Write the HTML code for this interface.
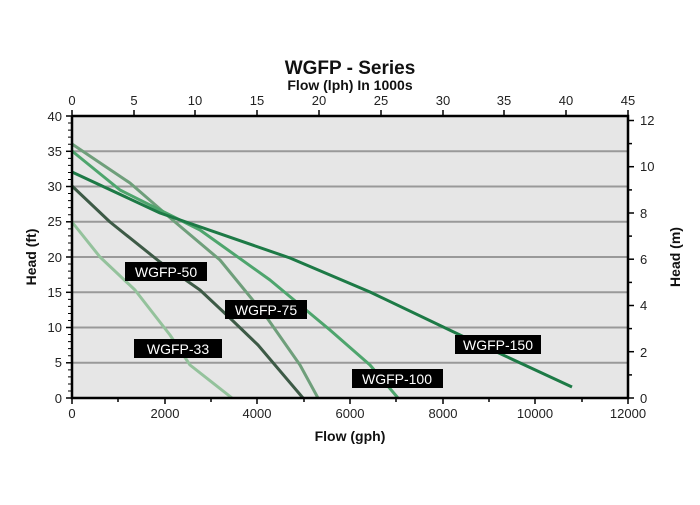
<!DOCTYPE html><html><head><style>body{margin:0;background:#fff}svg text{font-family:"Liberation Sans",sans-serif}</style></head><body>
<svg width="700" height="500" xmlns="http://www.w3.org/2000/svg">
<rect x="72" y="116" width="556" height="282" fill="#e6e6e6"/>
<g stroke="#999" stroke-width="2">
<line x1="72" x2="628" y1="151.3" y2="151.3"/><line x1="72" x2="628" y1="186.5" y2="186.5"/><line x1="72" x2="628" y1="221.8" y2="221.8"/><line x1="72" x2="628" y1="257" y2="257"/><line x1="72" x2="628" y1="292.3" y2="292.3"/><line x1="72" x2="628" y1="327.5" y2="327.5"/><line x1="72" x2="628" y1="362.8" y2="362.8"/></g>
<g fill="none" stroke-width="3" stroke-linejoin="round">
<polyline stroke="#94c29c" points="72,222 100,257 135,290 170,335 190,365 232,398"/>
<polyline stroke="#3d5a46" points="72,186 110,222 160,262 200,290 232,320 258,345 303,398"/>
<polyline stroke="#6f9f7b" points="72,144 130,183 175,222 220,260 265,315 300,365 318,398"/>
<polyline stroke="#4ea56d" points="72,151 120,190 200,230 270,280 330,330 370,365 398,398"/>
<polyline stroke="#1d7a46" points="72,172 160,213 290,258 370,292 460,335 572,387"/>
</g>
<g stroke="#000" stroke-width="2.5" fill="none"><polyline points="72,116 628,116 628,398 72,398 72,116"/></g>
<g stroke="#000" stroke-width="1.5">
<line x1="72" x2="72" y1="398" y2="404"/><line x1="165" x2="165" y1="398" y2="404"/><line x1="257" x2="257" y1="398" y2="404"/><line x1="350" x2="350" y1="398" y2="404"/><line x1="443" x2="443" y1="398" y2="404"/><line x1="535" x2="535" y1="398" y2="404"/><line x1="628" x2="628" y1="398" y2="404"/>
<line x1="118" x2="118" y1="398" y2="402"/><line x1="211" x2="211" y1="398" y2="402"/><line x1="304" x2="304" y1="398" y2="402"/><line x1="396" x2="396" y1="398" y2="402"/><line x1="489" x2="489" y1="398" y2="402"/><line x1="582" x2="582" y1="398" y2="402"/>
<line x1="72" x2="72" y1="110" y2="116"/><line x1="134" x2="134" y1="110" y2="116"/><line x1="195" x2="195" y1="110" y2="116"/><line x1="257" x2="257" y1="110" y2="116"/><line x1="319" x2="319" y1="110" y2="116"/><line x1="381" x2="381" y1="110" y2="116"/><line x1="443" x2="443" y1="110" y2="116"/><line x1="504" x2="504" y1="110" y2="116"/><line x1="566" x2="566" y1="110" y2="116"/><line x1="628" x2="628" y1="110" y2="116"/>
<line x1="66" x2="72" y1="116" y2="116"/><line x1="66" x2="72" y1="151.3" y2="151.3"/><line x1="66" x2="72" y1="186.5" y2="186.5"/><line x1="66" x2="72" y1="221.8" y2="221.8"/><line x1="66" x2="72" y1="257" y2="257"/><line x1="66" x2="72" y1="292.3" y2="292.3"/><line x1="66" x2="72" y1="327.5" y2="327.5"/><line x1="66" x2="72" y1="362.8" y2="362.8"/><line x1="66" x2="72" y1="398" y2="398"/>
<line x1="628" x2="634" y1="398" y2="398"/><line x1="628" x2="634" y1="351.7" y2="351.7"/><line x1="628" x2="634" y1="305.5" y2="305.5"/><line x1="628" x2="634" y1="259.2" y2="259.2"/><line x1="628" x2="634" y1="213" y2="213"/><line x1="628" x2="634" y1="166.7" y2="166.7"/><line x1="628" x2="634" y1="120.5" y2="120.5"/>
<line x1="628" x2="632" y1="374.9" y2="374.9"/><line x1="628" x2="632" y1="328.6" y2="328.6"/><line x1="628" x2="632" y1="282.4" y2="282.4"/><line x1="628" x2="632" y1="236.1" y2="236.1"/><line x1="628" x2="632" y1="189.9" y2="189.9"/><line x1="628" x2="632" y1="143.6" y2="143.6"/>
</g>
<g stroke="#000" stroke-width="1">
<path d="M68 123.05H72M68 130.1H72M68 137.15H72M68 144.2H72M68 158.35H72M68 165.4H72M68 172.45H72M68 179.5H72M68 193.55H72M68 200.6H72M68 207.65H72M68 214.7H72M68 228.85H72M68 235.9H72M68 242.95H72M68 250H72M68 264.05H72M68 271.1H72M68 278.15H72M68 285.2H72M68 299.35H72M68 306.4H72M68 313.45H72M68 320.5H72M68 334.55H72M68 341.6H72M68 348.65H72M68 355.7H72M68 369.85H72M68 376.9H72M68 383.95H72M68 391H72"/></g>
<g font-size="13" fill="#222" text-anchor="end">
<text x="62" y="121">40</text><text x="62" y="156">35</text><text x="62" y="191">30</text><text x="62" y="226">25</text><text x="62" y="262">20</text><text x="62" y="297">15</text><text x="62" y="332">10</text><text x="62" y="367">5</text><text x="62" y="403">0</text></g>
<g font-size="13" fill="#222">
<text x="640" y="403">0</text><text x="640" y="357">2</text><text x="640" y="310">4</text><text x="640" y="264">6</text><text x="640" y="218">8</text><text x="640" y="171">10</text><text x="640" y="125">12</text></g>
<g font-size="13" fill="#222" text-anchor="middle">
<text x="72" y="418">0</text><text x="165" y="418">2000</text><text x="257" y="418">4000</text><text x="350" y="418">6000</text><text x="443" y="418">8000</text><text x="535" y="418">10000</text><text x="628" y="418">12000</text>
<text x="72" y="105">0</text><text x="134" y="105">5</text><text x="195" y="105">10</text><text x="257" y="105">15</text><text x="319" y="105">20</text><text x="381" y="105">25</text><text x="443" y="105">30</text><text x="504" y="105">35</text><text x="566" y="105">40</text><text x="628" y="105">45</text></g>
<g font-weight="bold" fill="#111" text-anchor="middle">
<text x="350" y="74" font-size="19">WGFP - Series</text>
<text x="350" y="90" font-size="14">Flow (lph) In 1000s</text>
<text x="350" y="441" font-size="14">Flow (gph)</text>
<text transform="translate(36,257) rotate(-90)" font-size="14">Head (ft)</text>
<text transform="translate(680,257) rotate(-90)" font-size="14">Head (m)</text></g>
<g fill="#000"><rect x="125" y="262" width="82" height="19"/><rect x="225" y="300" width="82" height="19"/><rect x="134" y="339" width="88" height="19"/><rect x="352" y="369" width="91" height="19"/><rect x="455" y="335" width="86" height="19"/></g>
<g fill="#fff" font-size="14" text-anchor="middle">
<text x="166" y="277">WGFP-50</text><text x="266" y="315">WGFP-75</text><text x="178" y="354">WGFP-33</text><text x="397" y="384">WGFP-100</text><text x="498" y="350">WGFP-150</text></g>
</svg></body></html>
